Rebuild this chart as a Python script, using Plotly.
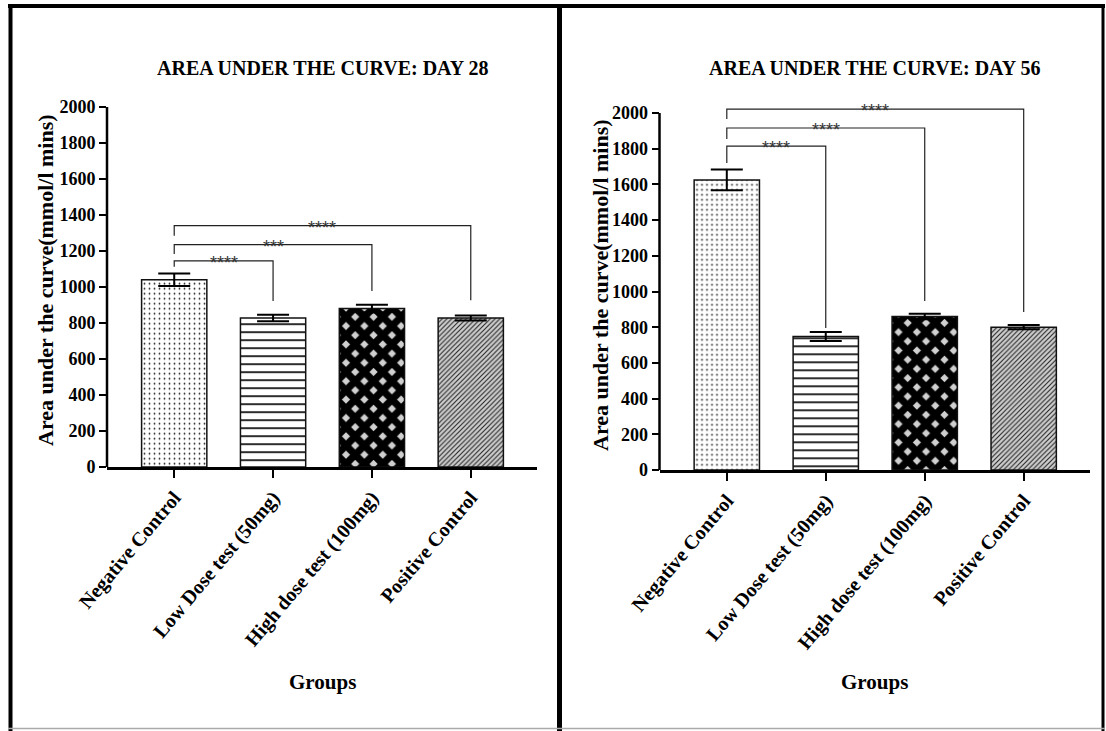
import plotly.graph_objects as go

# ---- data -------------------------------------------------------------
categories = ["Negative Control", "Low Dose test (50mg)",
              "High dose test (100mg)", "Positive Control"]

auc_day28 = [1040, 828, 880, 828]
sem_day28 = [35, 18, 22, 14]

auc_day56 = [1625, 748, 860, 800]
sem_day56 = [58, 25, 15, 12]

y_ticks = [0, 200, 400, 600, 800, 1000, 1200, 1400, 1600, 1800, 2000]

# significance brackets: (target group, bracket height, left leg end, right leg end, label)
brackets_day28 = [
    (1, 1145, 1112, 922, "****"),
    (2, 1235, 1184, 978, "***"),
    (3, 1341, 1285, 927, "****"),
]
brackets_day56 = [
    (1, 1815, 1720, 795, "****"),
    (2, 1916, 1854, 947, "****"),
    (3, 2022, 1966, 885, "****"),
]

titles = ["AREA UNDER THE CURVE: DAY 28", "AREA UNDER THE CURVE: DAY 56"]
y_title = "Area under the curve(mmol/l mins)"
x_title = "Groups"

# ---- styling ----------------------------------------------------------
SERIF = "Liberation Serif, Times New Roman, serif"
W, H = 1106, 731

pattern = dict(
    shape=[".", "-", "x", "/"],
    fgcolor=["#222222", "#111111", "#000000", "#222222"],
    bgcolor=["#ffffff", "#ffffff", "#d0d0d0", "#cfcfcf"],
    size=[5, 8, 13, 3.4],
    solidity=[0.1, 0.22, 0.8, 0.32],
    fillmode="replace",
)

panels = [
    dict(vals=auc_day28, err=sem_day28, brackets=brackets_day28,
         xdom=[107 / W, 537 / W], ydom=[(H - 467) / H, (H - 96.2) / H]),
    dict(vals=auc_day56, err=sem_day56, brackets=brackets_day56,
         xdom=[659.5 / W, 1090 / W], ydom=[(H - 470) / H, (H - 102.3) / H]),
]

fig = go.Figure()
layout = dict(
    width=W, height=H,
    margin=dict(l=0, r=0, t=0, b=0, pad=0, autoexpand=False),
    paper_bgcolor="white", plot_bgcolor="white",
    showlegend=False,
    shapes=[], annotations=[],
)

for i, p in enumerate(panels):
    n = "" if i == 0 else str(i + 1)
    xa, ya = "x" + n, "y" + n
    xpos = list(range(len(categories)))

    fig.add_trace(go.Bar(
        x=xpos, y=p["vals"], width=0.66,
        marker=dict(color="white", pattern=pattern,
                    line=dict(color="#111111", width=1.5)),
        error_y=dict(type="data", array=p["err"], visible=True,
                     color="black", thickness=2, width=16),
        xaxis=xa, yaxis=ya, hoverinfo="skip",
    ))

    # comparison brackets
    for tgt, top, left_end, right_end, label in p["brackets"]:
        fig.add_trace(go.Scatter(
            x=[0, 0, tgt, tgt], y=[left_end, top, top, right_end],
            mode="lines", line=dict(color="#222222", width=1.2),
            xaxis=xa, yaxis=ya, hoverinfo="skip",
        ))
        layout["annotations"].append(dict(
            x=tgt / 2, y=top, xref=xa, yref=ya, text=label,
            showarrow=False, xanchor="center", yanchor="middle", yshift=-2,
            font=dict(family="Liberation Sans, Arial", size=18, color="#333333"),
        ))

    axis_font = dict(family=SERIF, size=18, color="black", weight="bold")
    layout["xaxis" + n] = dict(
        domain=p["xdom"], anchor=ya, range=[-0.68, 3.67],
        tickvals=xpos, ticktext=categories, tickangle=-50,
        ticks="outside", ticklen=8, tickwidth=2, tickcolor="black",
        showline=True, linecolor="black", linewidth=3,
        showgrid=False, zeroline=False, automargin=False,
        tickfont=dict(family=SERIF, size=20, color="black", weight="bold"),
    )
    layout["yaxis" + n] = dict(
        domain=p["ydom"], anchor=xa, range=[0, 2060],
        tickvals=y_ticks, ticks="outside", ticklen=7, tickwidth=2,
        tickcolor="black", showline=False, showgrid=False, zeroline=False,
        automargin=False, tickfont=axis_font,
    )
    # vertical axis line ending at the top tick
    layout["shapes"].append(dict(
        type="line", xref=xa + " domain", yref=ya,
        x0=0, x1=0, y0=0, y1=y_ticks[-1],
        line=dict(color="black", width=2.5),
    ))

    xc = (p["xdom"][0] + p["xdom"][1]) / 2
    layout["annotations"] += [
        dict(x=xc, y=(H - 68) / H, xref="paper", yref="paper", text=titles[i],
             showarrow=False, xanchor="center", yanchor="middle",
             font=dict(family=SERIF, size=20, color="black", weight="bold")),
        dict(x=xc, y=(H - 682) / H, xref="paper", yref="paper", text=x_title,
             showarrow=False, xanchor="center", yanchor="middle",
             font=dict(family=SERIF, size=21, color="black", weight="bold")),
        dict(x=[45, 600][i] / W, y=(H - [280, 285][i]) / H, xref="paper", yref="paper",
             text=y_title, textangle=-90, showarrow=False,
             xanchor="center", yanchor="middle",
             font=dict(family=SERIF, size=22, color="black", weight="bold")),
    ]

# outer frame and divider
frame = [
    (8, 6, 1105, 6, "black", 4),
    (10.5, 6, 10.5, 731, "black", 4),
    (559.5, 6, 559.5, 731, "black", 5),
    (1103, 6, 1103, 731, "black", 3),
    (8, 728.5, 1105, 728.5, "#aaaaaa", 1.5),
]
for x0, y0, x1, y1, c, w in frame:
    layout["shapes"].append(dict(
        type="line", xref="paper", yref="paper",
        x0=x0 / W, x1=x1 / W, y0=(H - y0) / H, y1=(H - y1) / H,
        line=dict(color=c, width=w),
    ))

fig.update_layout(**layout)
fig.write_html("out.html")
